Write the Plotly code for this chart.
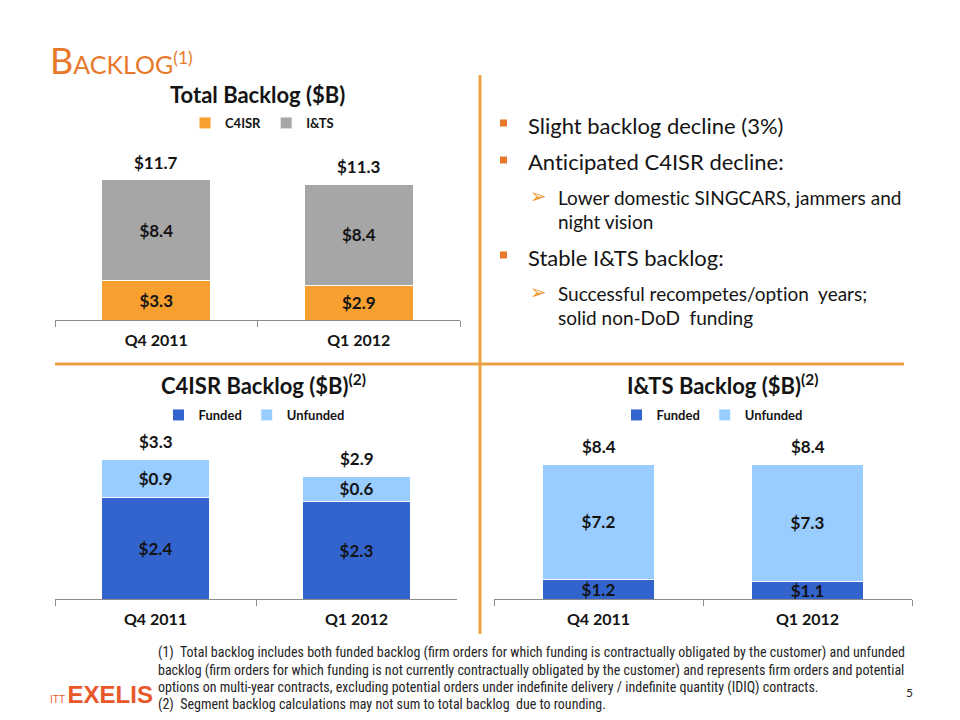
import plotly.graph_objects as go

# ---------------- data ----------------
categories = ["Q4 2011", "Q1 2012"]

total_c4isr = [3.3, 2.9]
total_its = [8.4, 8.4]
total_sum = [11.7, 11.3]

c4isr_funded = [2.4, 2.3]
c4isr_unfunded = [0.9, 0.6]
c4isr_sum = [3.3, 2.9]

its_funded = [1.2, 1.1]
its_unfunded = [7.2, 7.3]
its_sum = [8.4, 8.4]

# ---------------- styles ----------------
W, H = 960, 720
def px(x):
    return x / W
def py(y):
    return 1 - y / H

ORANGE = "#F7A030"
GRAY = "#A6A6A6"
DARK_BLUE = "#3363CC"
LIGHT_BLUE = "#99CCFF"
TITLE_ORANGE = "#E8792B"
LINE_ORANGE = "#E9A345"
TXT = "#141414"
FONT = "Lato"
NOLIG = '<span style="font-variant-ligatures:none">{}</span>'

def money(v):
    return [f"${x:.1f}" for x in v]

fig = go.Figure()

bar_common = dict(width=0.54, textposition="inside", insidetextanchor="middle",
                  constraintext="none",
                  textfont=dict(family=FONT, size=17, color=TXT, weight="bold"),
                  hoverinfo="skip")

# Total backlog
fig.add_trace(go.Bar(x=categories, y=total_c4isr, name="C4ISR", text=money(total_c4isr),
                     marker=dict(color=ORANGE, line=dict(color="white", width=1)),
                     xaxis="x", yaxis="y", legend="legend", **bar_common))
fig.add_trace(go.Bar(x=categories, y=total_its, name="I&TS", text=money(total_its),
                     marker=dict(color=GRAY, line=dict(color="white", width=1)),
                     xaxis="x", yaxis="y", legend="legend", **bar_common))
# C4ISR backlog
fig.add_trace(go.Bar(x=categories, y=c4isr_funded, name="Funded", text=money(c4isr_funded),
                     marker=dict(color=DARK_BLUE, line=dict(color="white", width=1)),
                     xaxis="x2", yaxis="y2", legend="legend2", **bar_common))
fig.add_trace(go.Bar(x=categories, y=c4isr_unfunded, name="Unfunded", text=money(c4isr_unfunded),
                     marker=dict(color=LIGHT_BLUE, line=dict(color="white", width=1)),
                     xaxis="x2", yaxis="y2", legend="legend2", **bar_common))
# I&TS backlog
fig.add_trace(go.Bar(x=categories, y=its_funded, name="Funded", text=money(its_funded),
                     marker=dict(color=DARK_BLUE, line=dict(color="white", width=1)),
                     xaxis="x3", yaxis="y3", legend="legend3", **bar_common))
fig.add_trace(go.Bar(x=categories, y=its_unfunded, name="Unfunded", text=money(its_unfunded),
                     marker=dict(color=LIGHT_BLUE, line=dict(color="white", width=1)),
                     xaxis="x3", yaxis="y3", legend="legend3", **bar_common))

xcommon = dict(type="category", showline=True, linecolor="#8C8C8C", linewidth=1,
               ticks="outside", tickson="boundaries", ticklen=6, tickcolor="#8C8C8C",
               tickfont=dict(family=FONT, size=16, color=TXT, weight="bold"),
               ticklabelstandoff=6, showgrid=False, zeroline=False, fixedrange=True)
ycommon = dict(visible=False, showgrid=False, zeroline=False, fixedrange=True)

annotations = []
def total_labels(vals, xr, yr):
    for c, v in zip(categories, vals):
        annotations.append(dict(x=c, y=v, xref=xr, yref=yr, text=f"${v:.1f}",
                                showarrow=False, xanchor="center", yanchor="bottom", yshift=5,
                                font=dict(family=FONT, size=17, color=TXT, weight="bold")))
total_labels(total_sum, "x", "y")
total_labels(c4isr_sum, "x2", "y2")
total_labels(its_sum, "x3", "y3")

# Slide title
annotations.append(dict(x=px(48), y=py(60), xref="paper", yref="paper", xanchor="left",
                        yanchor="middle", showarrow=False,
                        text='<span style="font-size:36px">B</span>ACKLOG<sup>(1)</sup>',
                        font=dict(family=FONT, size=25, color=TITLE_ORANGE)))

# Chart titles
ct_font = dict(family=FONT, size=22, color=TXT, weight="bold")
annotations.append(dict(x=px(257), y=py(95), xref="paper", yref="paper", showarrow=False,
                        xanchor="center", yanchor="middle",
                        text="Total Backlog ($B)", font=ct_font))
annotations.append(dict(x=px(263), y=py(384), xref="paper", yref="paper", showarrow=False,
                        xanchor="center", yanchor="middle",
                        text="C4ISR Backlog ($B)<sup>(2)</sup>", font=ct_font))
annotations.append(dict(x=px(722), y=py(384), xref="paper", yref="paper", showarrow=False,
                        xanchor="center", yanchor="middle",
                        text="I&TS Backlog ($B)<sup>(2)</sup>", font=ct_font))

# Bullets
main_font = dict(family=FONT, size=22, color=TXT)
sub_font = dict(family=FONT, size=19, color=TXT)
bullets = [(125, "Slight backlog decline (3%)"),
           (162, "Anticipated C4ISR decline:"),
           (257, "Stable I&TS backlog:")]
subs = [(197, "Lower domestic SINGCARS, jammers and"),
        (221, "night vision"),
        (293, "Successful recompetes/option  years;"),
        (317, "solid non-DoD  funding")]
arrows = [197, 293]
shapes = []
for y, t in bullets:
    annotations.append(dict(x=px(526), y=py(y), xref="paper", yref="paper", xanchor="left",
                            yanchor="middle", showarrow=False, text=NOLIG.format(t), font=main_font))
    shapes.append(dict(type="rect", xref="paper", yref="paper",
                       x0=px(500), x1=px(507), y0=py(y + 1.5), y1=py(y - 5.5),
                       fillcolor="#E8792B", line=dict(width=0)))
for y, t in subs:
    annotations.append(dict(x=px(556), y=py(y), xref="paper", yref="paper", xanchor="left",
                            yanchor="middle", showarrow=False, text=NOLIG.format(t), font=sub_font))
for y in arrows:
    annotations.append(dict(x=px(528), y=py(y - 1), xref="paper", yref="paper", xanchor="left",
                            yanchor="middle", showarrow=False, text="➢",
                            font=dict(family="DejaVu Sans", size=20, color="#F29A2E")))

# Footnotes
fn_font = dict(family="Liberation Sans Narrow, Roboto Condensed, Liberation Sans", size=14, color="#262626")
footnotes = [(652, "(1)  Total backlog includes both funded backlog (firm orders for which funding is contractually obligated by the customer) and unfunded"),
             (670, "backlog (firm orders for which funding is not currently contractually obligated by the customer) and represents firm orders and potential"),
             (687, "options on multi-year contracts, excluding potential orders under indefinite delivery / indefinite quantity (IDIQ) contracts."),
             (704, "(2)  Segment backlog calculations may not sum to total backlog  due to rounding.")]
for y, t in footnotes:
    annotations.append(dict(x=px(156), y=py(y), xref="paper", yref="paper", xanchor="left",
                            yanchor="middle", showarrow=False, text=t, font=fn_font))
annotations.append(dict(x=px(909), y=py(692), xref="paper", yref="paper", showarrow=False,
                        xanchor="center", yanchor="middle",
                        text="5", font=dict(family=FONT, size=12, color="#262626")))

# Logo
annotations.append(dict(x=px(48), y=py(694), xref="paper", yref="paper", xanchor="left",
                        yanchor="middle", showarrow=False,
                        text='<span style="font-size:10px">ITT </span><b>EXELIS</b>',
                        font=dict(family="Liberation Sans", size=24, color="#E8582A")))

# Separator lines
shapes.append(dict(type="line", xref="paper", yref="paper", x0=px(480), x1=px(480),
                   y0=py(75), y1=py(634), line=dict(color=LINE_ORANGE, width=3)))
shapes.append(dict(type="line", xref="paper", yref="paper", x0=px(55), x1=px(904),
                   y0=py(364), y1=py(364), line=dict(color=LINE_ORANGE, width=3)))

leg_font = dict(family=FONT, size=13, color=TXT, weight="bold")
leg_common = dict(orientation="h", xanchor="center", yanchor="middle",
                  bgcolor="rgba(0,0,0,0)", font=leg_font, itemwidth=30,
                  traceorder="normal", tracegroupgap=0)

fig.update_layout(
    width=W, height=H, margin=dict(l=0, r=0, t=0, b=0),
    paper_bgcolor="white", plot_bgcolor="white",
    barmode="stack", showlegend=True,
    uniformtext=dict(minsize=17, mode="show"),
    xaxis=dict(domain=[px(55), px(460)], anchor="y", **xcommon),
    yaxis=dict(domain=[py(320), py(150)], range=[0, 170 / 12.0], anchor="x", **ycommon),
    xaxis2=dict(domain=[px(55), px(457)], anchor="y2", **xcommon),
    yaxis2=dict(domain=[py(599), py(440)], range=[0, 159 / 42.4], anchor="x2", **ycommon),
    xaxis3=dict(domain=[px(494), px(912)], anchor="y3", **xcommon),
    yaxis3=dict(domain=[py(599), py(440)], range=[0, 159 / 16.07], anchor="x3", **ycommon),
    legend=dict(x=px(262), y=py(123), **leg_common),
    legend2=dict(x=px(254), y=py(415), **leg_common),
    legend3=dict(x=px(712), y=py(415), **leg_common),
    annotations=annotations,
    shapes=shapes,
)

fig.write_html("out.html")
